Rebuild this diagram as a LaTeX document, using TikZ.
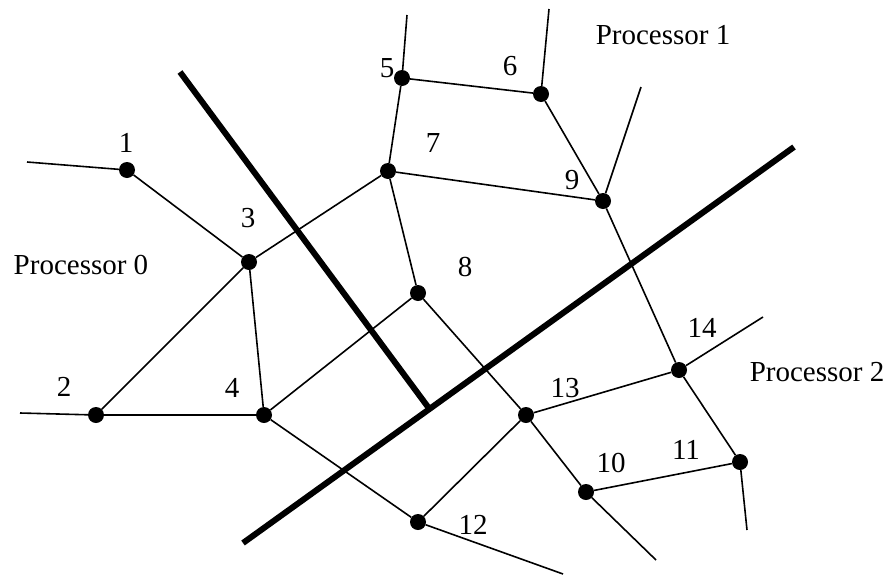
\documentclass[tikz,border=0pt]{standalone}
\usepackage{fontspec}
\setmainfont{Liberation Serif}
\begin{document}
\begin{tikzpicture}[x=1pt,y=-1pt,
  dot/.style={circle,fill=black,inner sep=0pt,minimum size=16pt},
  edge/.style={line width=1.6pt,black},
  cut/.style={line width=6pt,black},
  lbl/.style={inner sep=0pt,font=\fontsize{29}{29}\selectfont}]
\useasboundingbox (0,0) rectangle (887,576);
% vertices
\node[dot] (n1) at (127,170) {};
\node[dot] (n2) at (96,415) {};
\node[dot] (n3) at (249,262) {};
\node[dot] (n4) at (264,415) {};
\node[dot] (n5) at (402,78) {};
\node[dot] (n6) at (541,94) {};
\node[dot] (n7) at (388,171) {};
\node[dot] (n8) at (418,293) {};
\node[dot] (n9) at (603,201) {};
\node[dot] (n10) at (586,492) {};
\node[dot] (n11) at (740,462) {};
\node[dot] (n12) at (418,522) {};
\node[dot] (n13) at (526,415) {};
\node[dot] (n14) at (679,370) {};
% free ends
\coordinate (e1) at (27,162);
\coordinate (e2) at (20,413);
\coordinate (e5) at (407,15);
\coordinate (e6) at (549,9);
\coordinate (e9) at (641,87);
\coordinate (e10) at (656,560);
\coordinate (e11) at (747,530);
\coordinate (e12) at (563,574);
\coordinate (e14) at (763,317);
% cut lines
\coordinate (c1a) at (180,72);
\coordinate (c1b) at (428,407);
\coordinate (c2a) at (243,543);
\coordinate (c2b) at (794,147);
% edges
\draw[edge] (n1) -- (e1);
\draw[edge] (n1) -- (n3);
\draw[edge] (n3) -- (n7);
\draw[edge] (n3) -- (n4);
\draw[edge] (n3) -- (n2);
\draw[edge] (n2) -- (e2);
\draw[edge] (n2) -- (n4);
\draw[edge] (n4) -- (n8);
\draw[edge] (n4) -- (n12);
\draw[edge] (n5) -- (e5);
\draw[edge] (n5) -- (n6);
\draw[edge] (n5) -- (n7);
\draw[edge] (n6) -- (e6);
\draw[edge] (n6) -- (n9);
\draw[edge] (n9) -- (e9);
\draw[edge] (n7) -- (n9);
\draw[edge] (n7) -- (n8);
\draw[edge] (n8) -- (n13);
\draw[edge] (n13) -- (n10);
\draw[edge] (n10) -- (e10);
\draw[edge] (n13) -- (n12);
\draw[edge] (n13) -- (n14);
\draw[edge] (n12) -- (e12);
\draw[edge] (n9) -- (n14);
\draw[edge] (n14) -- (e14);
\draw[edge] (n14) -- (n11);
\draw[edge] (n10) -- (n11);
\draw[edge] (n11) -- (e11);
\draw[cut] (c1a) -- (c1b);
\draw[cut] (c2a) -- (c2b);
% labels
\node[lbl] (l1) at (126,143) {1};
\node[lbl] (l2) at (64,387) {2};
\node[lbl] (l3) at (248,218) {3};
\node[lbl] (l4) at (232,388) {4};
\node[lbl] (l5) at (387,68) {5};
\node[lbl] (l6) at (510,66) {6};
\node[lbl] (l7) at (433,143) {7};
\node[lbl] (l8) at (465,267) {8};
\node[lbl] (l9) at (572,180) {9};
\node[lbl] (l10) at (611,463) {10};
\node[lbl] (l11) at (686,450) {11};
\node[lbl] (l12) at (473,525) {12};
\node[lbl] (l13) at (565,388) {13};
\node[lbl] (l14) at (702,328) {14};
\node[lbl] (p0) at (81,265) {Processor 0};
\node[lbl] (p1) at (663,35) {Processor 1};
\node[lbl] (p2) at (817,372) {Processor 2};
\end{tikzpicture}
\end{document}
